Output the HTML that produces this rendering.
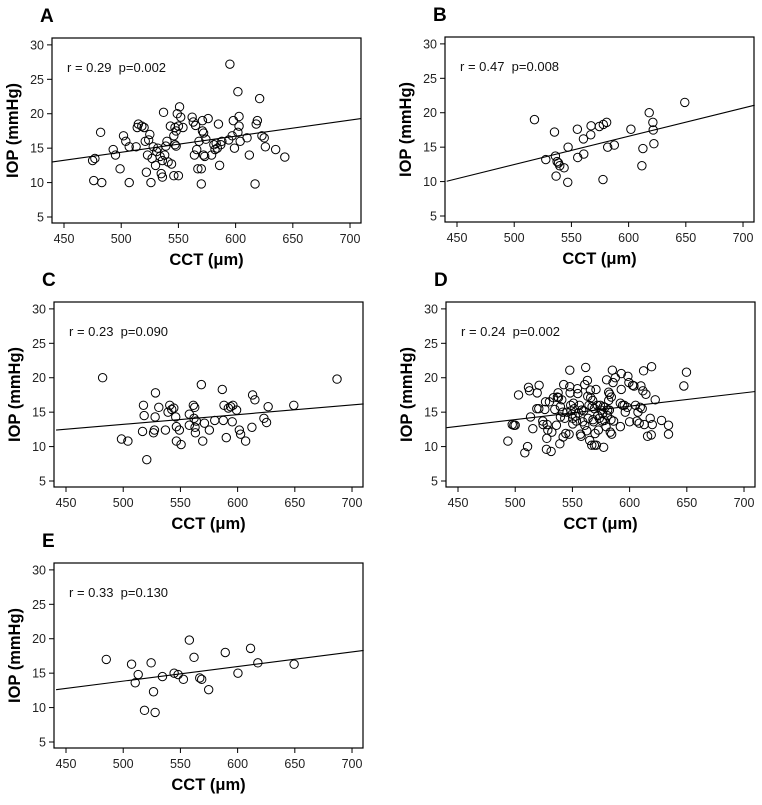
<!DOCTYPE html>
<html><head><meta charset="utf-8">
<style>
body{margin:0;background:#fff;}
svg{display:block;font-family:"Liberation Sans",Arial,sans-serif;}
text{white-space:pre;}
</style></head>
<body>
<svg id="fig" width="762" height="805" viewBox="0 0 762 805"></svg>
<script>
// ---------- data ----------
const xTicks=[450,500,550,600,650,700];
const yTicks=[5,10,15,20,25,30];
const aX=[475,477,476,482,483,493,495,499,502,504,507,507,513,514,515,518,520,521,522,523,524,525,526,527,528,530,531,532,534,535,536,536,537,538,539,540,541,543,544,546,546,547,547,548,548,549,550,550,551,552,554,562,563,564,565,566,567,568,570,570,571,571,572,573,572,574,576,579,581,582,583,584,585,586,587,588,594,595,597,598,599,602,602,603,603,604,610,612,617,618,619,621,623,625,626,635,643];
const aY=[13.2,13.5,10.3,17.3,10,14.8,14,12,16.8,16,15.2,10,15.2,18,18.5,18.2,18,16,11.5,14,16.2,17,10,13.5,15.2,12.5,14.5,15,13.8,11.3,10.8,13.2,20.2,14,15.3,16,13,18.2,12.7,11,16.8,18,15.5,15.3,17.5,20,18.2,11,21,19.5,18,19.5,18.8,14,18.3,14.8,12,16,12,9.8,19,17.5,14,13.8,17.2,16.3,19.3,14,15.5,14.8,15.7,15,18.5,12.5,15.5,16,16.2,27.2,16.8,19,15,23.2,17.3,18.2,19.6,16,16.5,14,9.8,18.5,19,22.2,16.8,16.5,15.2,14.8,13.7];
const aLine=[[439.8,13.0],[709.6,19.3]];
const bX=[517.7,527.6,535.2,536,537.5,538.7,539.8,536.6,543.6,546.8,547.1,555.2,555.5,560.5,560.8,566.9,567.2,574.4,577.9,580.8,577.6,581.7,587.5,602,611.6,612.5,618,621.2,621.5,622.1,649.1];
const bY=[19.0,13.2,17.2,13.7,12.9,12.7,12.3,10.8,12.0,9.9,15.0,17.6,13.5,16.2,14.0,16.8,18.1,18.0,18.3,18.6,10.3,15.0,15.3,17.6,12.3,14.8,20.0,18.6,17.5,15.5,21.5];
const bLine=[[441,10.05],[710.2,21.1]];
const cX=[482,498.5,504.1,516.9,517.7,518.3,520.6,526.5,527.3,527.9,528.2,531.1,536.9,539.2,540.7,542.4,544.2,545.9,546.5,546.5,549.1,550.6,557.8,557.8,561.3,562.5,561.9,563.9,562.8,563.1,568.3,569.5,571,575.3,580,586.6,587.5,588.1,590.1,591.9,593.9,595.9,595.3,599.1,601.5,602.6,607,612.5,613.1,615.1,623,625.3,626.7,649.1,686.9];
const cY=[20.0,11.1,10.8,12.2,16.0,14.5,8.1,12.0,12.4,14.3,17.8,15.7,12.4,15.0,16.0,15.4,15.6,14.3,12.9,10.8,12.4,10.3,14.7,13.1,16.0,15.7,14.1,13.7,12.8,12.0,19.0,10.8,13.4,12.4,13.8,18.3,13.8,16.0,11.3,15.6,15.8,16.0,13.6,15.3,12.4,11.8,10.8,12.8,17.5,16.8,14.1,13.5,15.8,16.0,19.8];
const cLine=[[441.3,12.4],[710.2,16.2]];
const dX=[493.6,497.4,498.8,500,502.9,508.4,510.8,511.6,512.5,513.4,515.4,520.6,519.2,518.9,520.9,524.1,524.4,525.9,526.5,527.3,527.6,527.9,528.5,529.9,531.4,532,533.4,534.6,536,536.9,537.5,537.8,539,539.5,539.5,540.7,541.6,541.9,542.4,543.3,544.2,545.3,547.1,547.7,547.7,548,548.5,548.8,549.7,550.3,550.3,550.9,551.7,552.6,553.5,554.4,554.7,555.5,556.1,557,557.6,558.1,559,559.9,560.8,560.8,561.6,562.5,563.1,563.4,563.7,564.5,565.1,565.7,566,566.9,567.2,567.7,568,568.6,569.2,569.2,569.8,570.6,570.9,571.8,572.1,572.7,573.5,574.4,575,575.9,576.5,577,577.3,577.9,578.5,579.4,579.9,580.5,580.8,581.7,581.7,582.3,582.6,583.1,583.7,584,584.3,584.9,585.5,586,587.5,591.9,591.9,592.7,592.7,593.9,595.3,596.2,597.9,598.5,599.4,600,602.6,603.8,605.2,606.4,607.3,608.4,609.3,609.9,611,611.6,612.2,612.8,614.2,615.7,618,618.9,619.2,619.8,622.4,627.9,634,634,647.4,649.7];
const dY=[10.8,13.2,13.1,13.1,17.5,9.1,10.0,18.6,18.1,14.3,12.6,15.5,17.8,15.5,18.9,13.7,13.2,15.4,16.5,9.6,11.2,13.2,12.4,16.5,9.3,12.1,17.1,15.4,13.1,17.2,17.8,17.1,10.4,15.8,14.3,16.8,15.0,11.4,19.0,14.1,11.9,15.0,11.8,21.1,18.7,17.8,16.0,15.2,14.7,14.1,13.3,16.3,15.5,14.4,13.7,18.4,17.7,14.9,16.0,11.8,11.5,15.3,13.6,15.2,19.0,13.1,21.5,12.3,19.6,17.3,14.1,16.0,10.9,18.2,17.1,10.2,15.8,16.7,13.9,13.6,15.5,10.2,11.9,18.3,10.2,16.0,14.5,12.4,14.1,16.0,15.3,13.7,14.8,15.8,9.9,13.8,15.7,12.9,19.7,14.5,15.3,16.7,17.9,15.3,17.6,12.1,13.9,17.2,11.8,21.1,19.3,13.7,20.0,12.9,16.3,18.3,20.6,16.0,16.0,15.0,15.7,20.2,19.3,13.6,18.9,18.8,16.0,13.7,15.0,13.4,15.7,18.8,15.5,18.1,21.0,13.2,17.6,11.5,14.1,11.7,21.6,13.2,16.8,13.8,13.1,11.8,18.8,20.8];
const dLine=[[440,12.75],[710,18.0]];
const eX=[485.2,507.3,510.5,513.1,518.6,524.4,526.5,527.9,534.3,544.5,548,552.6,557.8,561.9,566.9,568.6,574.7,589.2,600.3,611.3,617.7,649.4];
const eY=[17.0,16.3,13.6,14.8,9.6,16.5,12.3,9.3,14.5,15.0,14.8,14.1,19.8,17.3,14.3,14.1,12.6,18.0,15.0,18.6,16.5,16.3];
const eLine=[[441.3,12.6],[710.2,18.3]];
const panelLetters=["A","B","C","D","E"];
const statTexts=["r = 0.29  p=0.002","r = 0.47  p=0.008","r = 0.23  p=0.090","r = 0.24  p=0.002","r = 0.33  p=0.130"];

// ---------- layout ----------
const panels=[
 {id:"a",L:52,T:38,xs:aX,ys:aY,line:aLine},
 {id:"b",L:445,T:37,xs:bX,ys:bY,line:bLine},
 {id:"c",L:54,T:302,xs:cX,ys:cY,line:cLine},
 {id:"d",L:446,T:302,xs:dX,ys:dY,line:dLine},
 {id:"e",L:54,T:563,xs:eX,ys:eY,line:eLine}
];
const W=309,H=185,X0=439.5,X1=709.6,Y0=4.13,Y1=31;
const NS="http://www.w3.org/2000/svg";
const svg=document.getElementById("fig");
function mk(tag,attrs,parent,text){const e=document.createElementNS(NS,tag);for(const k in attrs)e.setAttribute(k,attrs[k]);if(text!==undefined)e.textContent=text;(parent||svg).appendChild(e);return e;}

panels.forEach((p,i)=>{
  const sx=v=>p.L+(v-X0)/(X1-X0)*W;
  const sy=v=>p.T+H-(v-Y0)/(Y1-Y0)*H;
  const g=mk("g",{});
  
  
  const letter=mk("text",{x:p.L-12,y:p.T-16,"font-size":19,"font-weight":"bold"},g,panelLetters[i]);
  
  
  const box=mk("rect",{x:p.L,y:p.T,width:W,height:H,fill:"none",stroke:"#000","stroke-width":1.2},g);
  
  
  yTicks.forEach(t=>{
    const y=sy(t);
    const tk=mk("line",{x1:p.L-5,x2:p.L,y1:y,y2:y,stroke:"#000"},g);
    
    
    const tl=mk("text",{x:p.L-8,y:y+4.5,"font-size":12.5,"text-anchor":"end",fill:"#222"},g,String(t));
    
    
  });
  xTicks.forEach(t=>{
    const x=sx(t);
    const tk=mk("line",{x1:x,x2:x,y1:p.T+H,y2:p.T+H+5,stroke:"#000"},g);
    
    
    const tl=mk("text",{x:x,y:p.T+H+20,"font-size":12.5,"text-anchor":"middle",fill:"#222"},g,String(t));
    
    
  });
  const yt=mk("text",{x:0,y:0,"font-size":16.5,"font-weight":"bold","text-anchor":"middle",transform:`translate(${p.L-34},${p.T+H/2}) rotate(-90)`},g,"IOP (mmHg)");
  
  
  const xt=mk("text",{x:p.L+W/2,y:p.T+H+42,"font-size":16.5,"font-weight":"bold","text-anchor":"middle"},g,"CCT (\u03bcm)");
  
  
  const st=mk("text",{x:p.L+15,y:p.T+34,"font-size":13,fill:"#111","xml:space":"preserve"},g,statTexts[i]);
  
  
  const ln=mk("line",{x1:sx(p.line[0][0]),y1:sy(p.line[0][1]),x2:sx(p.line[1][0]),y2:sy(p.line[1][1]),stroke:"#000","stroke-width":1.1},g);
  
  
  p.xs.forEach((xv,j)=>{
    const c=mk("circle",{cx:sx(xv),cy:sy(p.ys[j]),r:4.2,fill:"none",stroke:"#000","stroke-width":1},g);
    
    
  });
});
</script>
</body></html>
